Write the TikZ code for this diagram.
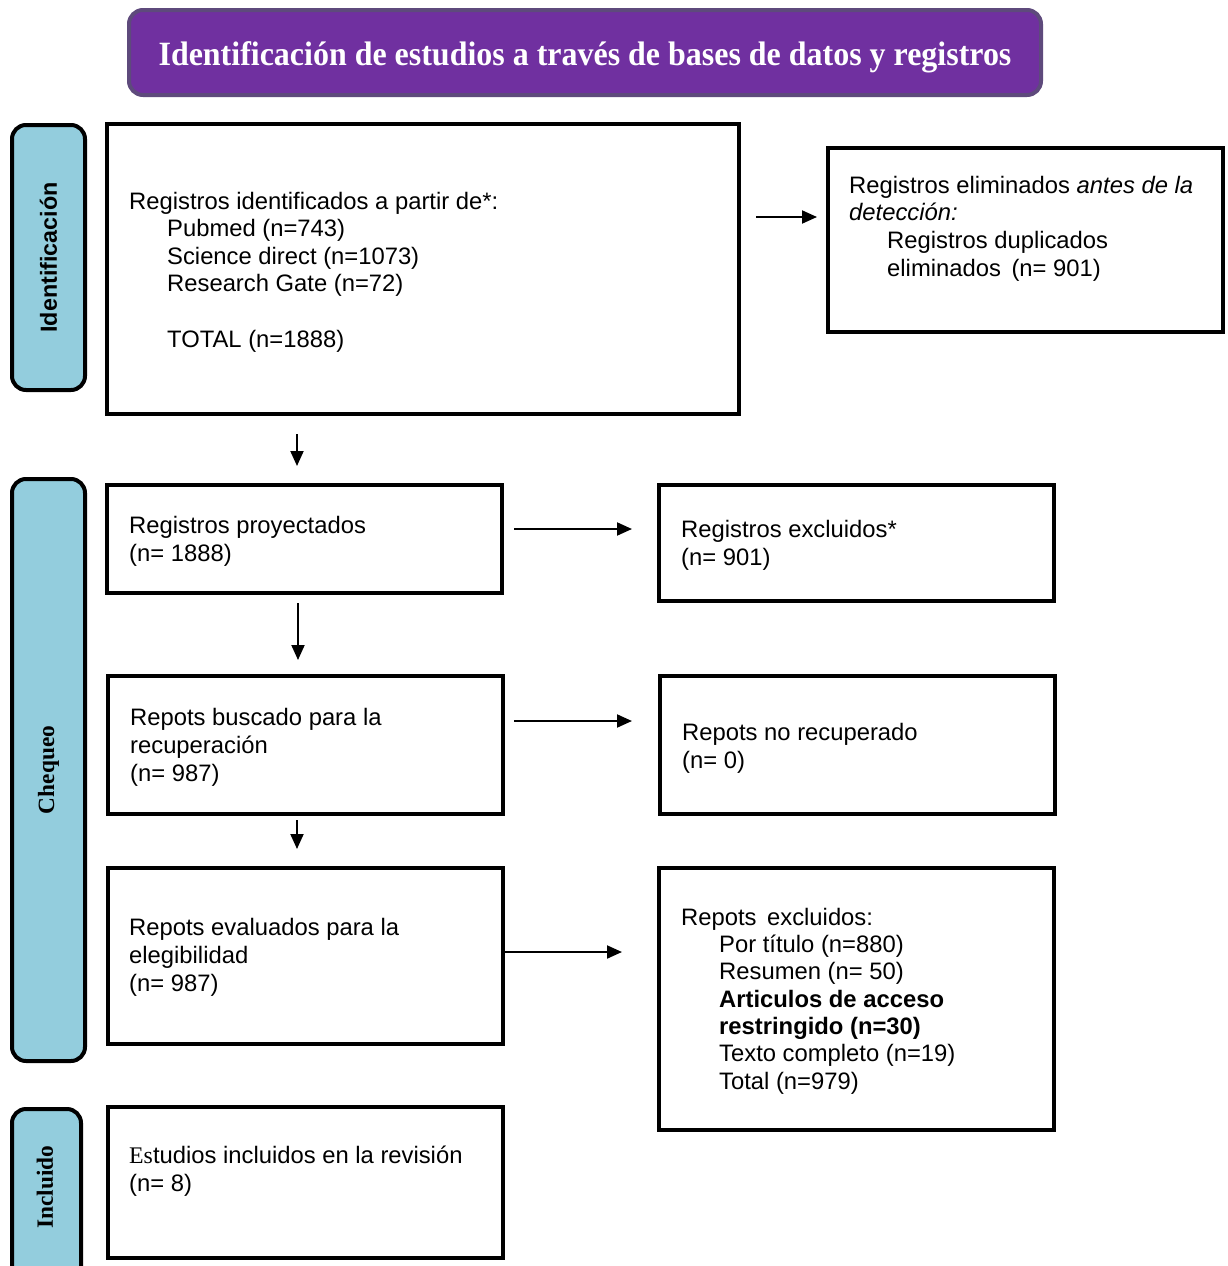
\documentclass[tikz,border=0pt]{standalone}
\usepackage{fontspec}
\setmainfont{Liberation Sans}
\newfontfamily\timesf{Liberation Serif}
\usetikzlibrary{arrows.meta,calc}
\definecolor{purp}{HTML}{7030A0}
\definecolor{purpedge}{HTML}{5E4A7C}
\definecolor{sideblue}{HTML}{93CDDD}
\begin{document}
\begin{tikzpicture}[x=1pt,y=-1pt,
  box/.style={draw=black,line width=4pt,rectangle,anchor=north west,inner sep=0pt},
  side/.style={draw=black,line width=4pt,fill=sideblue,rounded corners=14pt,anchor=north west,inner sep=0pt},
  txt/.style={anchor=base west,inner sep=0pt,align=left,font=\fontsize{23.8}{27.6}\selectfont},
  sidelbl/.style={rotate=90,inner sep=0pt,font=\fontsize{23.3}{28}\selectfont\bfseries},
  arr/.style={line width=2pt,-{Triangle[length=15pt,width=13pt]}}
]
\useasboundingbox (0,0) rectangle (1228,1266);
% title
\node[draw=purpedge,fill=purp,line width=4pt,rounded corners=14pt,anchor=north west,minimum width=912pt,minimum height=85pt,inner sep=0pt] (tbox) at (127,8) {};
\node[anchor=base,inner sep=0pt,text=white,font=\timesf\fontsize{34}{40}\selectfont\bfseries] (title) at (585,65) {\scalebox{0.94}[1]{Identificación de estudios a través de bases de datos y registros}};
% side labels
\node[side,minimum width=73pt,minimum height=265pt] (sid) at (10,123) {};
\node[sidelbl] (sidl) at (sid.center) {Identificación};
\node[side,minimum width=73pt,minimum height=582pt] (sch) at (10,477) {};
\node[sidelbl,font=\timesf\fontsize{23.3}{28}\selectfont\bfseries] (schl) at (sch.center) {Chequeo};
\node[side,minimum width=69pt,minimum height=190pt] (sin) at (10,1107) {};
\node[sidelbl,font=\timesf\fontsize{23.3}{28}\selectfont\bfseries] (sinl) at (45,1187) {Incluido};
% boxes
\node[box,minimum width=632pt,minimum height=290pt] (b1) at (105,122) {};
\node[box,minimum width=395pt,minimum height=184pt] (dup) at (826,146) {};
\node[box,minimum width=395pt,minimum height=108pt] (proj) at (105,483) {};
\node[box,minimum width=395pt,minimum height=116pt] (excl) at (657,483) {};
\node[box,minimum width=395pt,minimum height=138pt] (busc) at (106,674) {};
\node[box,minimum width=395pt,minimum height=138pt] (norec) at (658,674) {};
\node[box,minimum width=395pt,minimum height=176pt] (eval) at (106,866) {};
\node[box,minimum width=395pt,minimum height=262pt] (rexcl) at (657,866) {};
\node[box,minimum width=395pt,minimum height=151pt] (incl) at (106,1105) {};
% texts (base anchor = baseline of last line)
\node[txt] (t1) at (129,347) {Registros identificados a partir de*:\\
\hspace*{38pt}Pubmed (n=743)\\
\hspace*{38pt}Science direct (n=1073)\\
\hspace*{38pt}Research Gate (n=72)\\[27.6pt]
\hspace*{38pt}TOTAL (n=1888)};
\node[txt] (tdup) at (849,276) {Registros eliminados \textit{antes de la}\\
\textit{detección:}\\
\hspace*{38pt}Registros duplicados\\
\hspace*{38pt}eliminados\, (n= 901)};
\node[txt] (tproj) at (129,561) {Registros proyectados\\(n= 1888)};
\node[txt] (texcl) at (681,565) {Registros excluidos*\\(n= 901)};
\node[txt] (tbusc) at (130,781) {Repots buscado para la\\recuperación\\(n= 987)};
\node[txt] (tnorec) at (682,768) {Repots no recuperado\\(n= 0)};
\node[txt] (teval) at (129,991) {Repots evaluados para la\\elegibilidad\\(n= 987)};
\node[txt,font=\fontsize{23.8}{27.3}\selectfont] (trexcl) at (681,1089) {Repots\, excluidos:\\
\hspace*{38pt}Por título (n=880)\\
\hspace*{38pt}Resumen (n= 50)\\
\hspace*{38pt}\textbf{Articulos de acceso}\\
\hspace*{38pt}\textbf{restringido (n=30)}\\
\hspace*{38pt}Texto completo (n=19)\\
\hspace*{38pt}Total (n=979)};
\node[txt] (tincl) at (129,1191) {{\timesf Es}tudios incluidos en la revisión\\(n= 8)};
% arrows
\draw[arr] ($(b1.north east)+(15,95)$) -- ($(dup.north west)+(-9,71)$);
\draw[arr] ($(b1.south west)+(192,18)$) -- ($(proj.north west)+(192,-17)$);
\draw[arr] ($(proj.north east)+(10,46)$) -- ($(excl.north west)+(-25,46)$);
\draw[arr] ($(proj.south west)+(193,8)$) -- ($(busc.north west)+(192,-14)$);
\draw[arr] ($(busc.north east)+(9,47)$) -- ($(norec.north west)+(-26,47)$);
\draw[arr] ($(busc.south west)+(191,4)$) -- ($(eval.north west)+(191,-17)$);
\draw[arr] ($(eval.north east)+(0,86)$) -- ($(rexcl.north west)+(-35,86)$);
\end{tikzpicture}
\end{document}
